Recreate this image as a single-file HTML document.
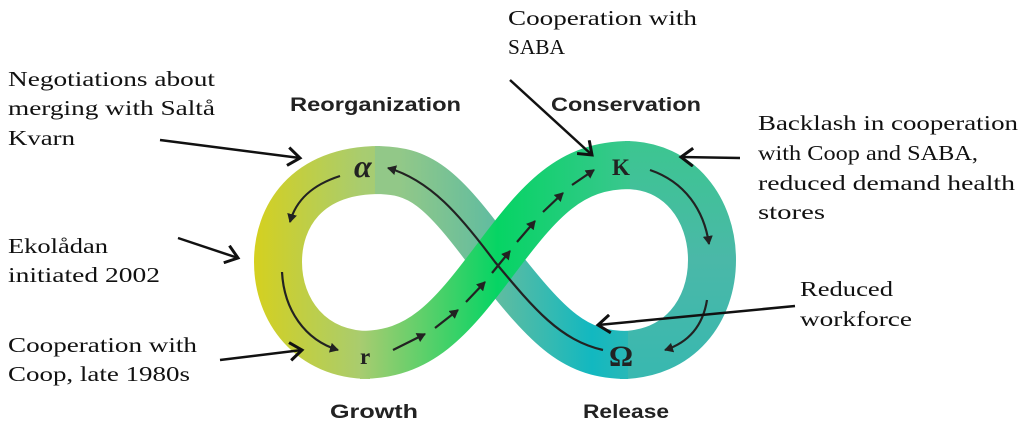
<!DOCTYPE html>
<html><head><meta charset="utf-8"><style>
html,body{margin:0;padding:0;background:#fff;}
svg{display:block;}
.t{font-family:"Liberation Serif",serif;font-size:21px;fill:#111;}
.h{font-family:"Liberation Sans",sans-serif;font-size:19px;font-weight:bold;fill:#222;}
.g{font-family:"Liberation Serif",serif;font-weight:bold;fill:#222;}
</style></head><body>
<svg width="1024" height="429" viewBox="0 0 1024 429" xmlns="http://www.w3.org/2000/svg">
<defs>
<linearGradient id="ll" x1="255" y1="0" x2="495" y2="0" gradientUnits="userSpaceOnUse">
<stop offset="0" stop-color="#d4d020"/>
<stop offset="0.45" stop-color="#a8cc70"/>
<stop offset="1" stop-color="#88c690"/>
</linearGradient>
<linearGradient id="dd" x1="400" y1="0" x2="640" y2="0" gradientUnits="userSpaceOnUse">
<stop offset="0" stop-color="#92c888"/>
<stop offset="0.4" stop-color="#60bca0"/>
<stop offset="0.8" stop-color="#12b8c0"/>
<stop offset="1" stop-color="#30b8b4"/>
</linearGradient>
<linearGradient id="rr" x1="0" y1="140" x2="0" y2="380" gradientUnits="userSpaceOnUse">
<stop offset="0" stop-color="#3cc690"/>
<stop offset="0.5" stop-color="#4ab8a8"/>
<stop offset="1" stop-color="#38b8b0"/>
</linearGradient>
<linearGradient id="gg" x1="360" y1="0" x2="635" y2="0" gradientUnits="userSpaceOnUse">
<stop offset="0" stop-color="#a8cc70"/>
<stop offset="0.5" stop-color="#06d464"/>
<stop offset="1" stop-color="#3cc690"/>
</linearGradient>
<marker id="ah" markerWidth="10" markerHeight="10" refX="8" refY="5" orient="auto" markerUnits="userSpaceOnUse">
<path d="M0,0 L9,5 L0,10 Z" fill="#222"/>
</marker>
<marker id="oh" markerWidth="16" markerHeight="20" refX="13" refY="10" orient="auto" markerUnits="userSpaceOnUse">
<path d="M1,1 L13,10 L1,19" fill="none" stroke="#111" stroke-width="3"/>
</marker>
</defs>

<!-- right loop -->
<path d="M620 355 C680 355,712 310,712 260 C712 210,680 165,625 165" fill="none" stroke="url(#rr)" stroke-width="48"/>
<!-- left loop -->
<path d="M380 170 C305 170,278 218,278 262 C278 310,310 355,370 355" fill="none" stroke="url(#ll)" stroke-width="48"/>
<!-- descending band -->
<path d="M375 170 C420 170,440 185,495 260 C550 330,575 355,628 355" fill="none" stroke="url(#dd)" stroke-width="48"/>
<!-- ascending green band -->
<path d="M360 355 C420 355,450 320,495 260 C540 200,570 165,630 165" fill="none" stroke="url(#gg)" stroke-width="48"/>

<!-- inner arrows -->
<path d="M340 176 C312 185,296 200,290 222" fill="none" stroke="#222" stroke-width="2.2" marker-end="url(#ah)"/>
<path d="M282 272 C284 310,305 340,338 350" fill="none" stroke="#222" stroke-width="2.2" marker-end="url(#ah)"/>
<path d="M650 170 C685 182,704 210,709 244" fill="none" stroke="#222" stroke-width="2.2" marker-end="url(#ah)"/>
<path d="M707 300 C703 325,690 342,665 350" fill="none" stroke="#222" stroke-width="2.2" marker-end="url(#ah)"/>
<path d="M603 350 C560 340,535 310,495 262 C460 215,430 180,388 168" fill="none" stroke="#222" stroke-width="2.2" marker-end="url(#ah)"/>
<g stroke="#222" stroke-width="2.2" marker-end="url(#ah)">
<line x1="393" y1="350" x2="425" y2="334"/>
<line x1="435" y1="328" x2="458" y2="310"/>
<line x1="466" y1="302" x2="485" y2="282"/>
<line x1="492" y1="273" x2="510" y2="251"/>
<line x1="517" y1="242" x2="535" y2="221"/>
<line x1="543" y1="212" x2="563" y2="193"/>
<line x1="572" y1="185" x2="594" y2="170"/>
</g>

<!-- greek letters -->
<text class="g" x="354" y="177" font-size="32" font-style="italic">α</text>
<text class="g" x="612" y="175" font-size="23">K</text>
<text class="g" x="360" y="364" font-size="23">r</text>
<text class="g" x="609" y="366" font-size="30">Ω</text>

<!-- external arrows -->
<g stroke="#111" stroke-width="2.5" fill="none" marker-end="url(#oh)">
<line x1="160" y1="140" x2="300" y2="158"/>
<line x1="178" y1="238" x2="238" y2="258"/>
<line x1="220" y1="360" x2="302" y2="350"/>
<line x1="510" y1="80" x2="592" y2="155"/>
<line x1="740" y1="158" x2="681" y2="157"/>
<line x1="795" y1="306" x2="598" y2="325"/>
</g>

<!-- headings -->
<text class="h" x="290" y="111" textLength="171" lengthAdjust="spacingAndGlyphs">Reorganization</text>
<text class="h" x="551" y="111" textLength="150" lengthAdjust="spacingAndGlyphs">Conservation</text>
<text class="h" x="330" y="418" textLength="88" lengthAdjust="spacingAndGlyphs">Growth</text>
<text class="h" x="583" y="418" textLength="86" lengthAdjust="spacingAndGlyphs">Release</text>

<!-- labels -->
<text class="t" x="8" y="86" textLength="207" lengthAdjust="spacingAndGlyphs">Negotiations about</text>
<text class="t" x="8" y="115" textLength="207" lengthAdjust="spacingAndGlyphs">merging with Saltå</text>
<text class="t" x="8" y="145" textLength="67" lengthAdjust="spacingAndGlyphs">Kvarn</text>
<text class="t" x="8" y="253" textLength="100" lengthAdjust="spacingAndGlyphs">Ekolådan</text>
<text class="t" x="8" y="282" textLength="152" lengthAdjust="spacingAndGlyphs">initiated 2002</text>
<text class="t" x="8" y="352" textLength="189" lengthAdjust="spacingAndGlyphs">Cooperation with</text>
<text class="t" x="8" y="381" textLength="182" lengthAdjust="spacingAndGlyphs">Coop, late 1980s</text>
<text class="t" x="508" y="25" textLength="189" lengthAdjust="spacingAndGlyphs">Cooperation with</text>
<text class="t" x="508" y="54" textLength="57" lengthAdjust="spacingAndGlyphs">SABA</text>
<text class="t" x="758" y="130" textLength="260" lengthAdjust="spacingAndGlyphs">Backlash in cooperation</text>
<text class="t" x="758" y="160" textLength="220" lengthAdjust="spacingAndGlyphs">with Coop and SABA,</text>
<text class="t" x="758" y="190" textLength="257" lengthAdjust="spacingAndGlyphs">reduced demand health</text>
<text class="t" x="758" y="219" textLength="67" lengthAdjust="spacingAndGlyphs">stores</text>
<text class="t" x="800" y="296" textLength="93" lengthAdjust="spacingAndGlyphs">Reduced</text>
<text class="t" x="800" y="326" textLength="112" lengthAdjust="spacingAndGlyphs">workforce</text>
</svg>
</body></html>
